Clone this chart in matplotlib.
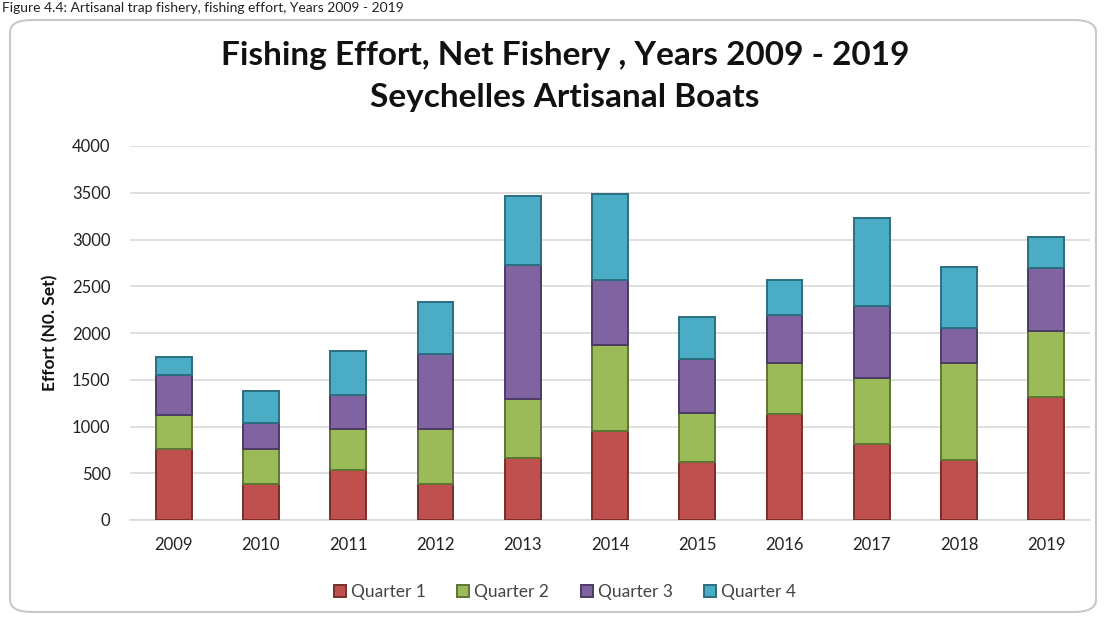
import matplotlib
matplotlib.use("Agg")
import matplotlib.pyplot as plt
from matplotlib.patches import FancyBboxPatch
import numpy as np

years = ["2009", "2010", "2011", "2012", "2013", "2014", "2015", "2016", "2017", "2018", "2019"]
q1 = [763, 385, 535, 381, 659, 955, 620, 1130, 809, 642, 1319]
q2 = [360, 371, 442, 596, 635, 917, 528, 553, 706, 1034, 706]
q3 = [428, 285, 356, 798, 1433, 695, 574, 509, 774, 374, 667]
q4 = [190, 342, 474, 556, 742, 916, 453, 375, 937, 659, 338]
series_names = ["Quarter 1", "Quarter 2", "Quarter 3", "Quarter 4"]
colors = ["#C0504D", "#9BBB59", "#8064A2", "#4BACC6"]
edges = ["#7A2E2C", "#5E7534", "#4D3B66", "#2C6E80"]
yticks = [0, 500, 1000, 1500, 2000, 2500, 3000, 3500, 4000]

plt.rcParams['font.family'] = ['Lato', 'DejaVu Sans']

W, H = 1105, 618
fig = plt.figure(figsize=(W / 100, H / 100), dpi=100)
fig.patch.set_facecolor("white")

# chart border
border = FancyBboxPatch((10 / W, 1 - 612 / H), (1096 - 10) / W, (612 - 20) / H,
                        boxstyle="round,pad=0,rounding_size=0.02",
                        transform=fig.transFigure, facecolor="none",
                        edgecolor="#C8C8C8", linewidth=1.5, zorder=-1)
fig.patches.append(border)

# caption on top
fig.text(2 / W, 1 - 8 / H, "Figure 4.4: Artisanal trap fishery, fishing effort, Years 2009 - 2019",
         fontsize=10, color="#222222", ha="left", va="center")

ax = fig.add_axes([130 / W, 1 - 520 / H, (1090 - 130) / W, (520 - 146) / H])
ax.set_facecolor("none")

x = np.arange(len(years))
bottom = np.zeros(len(years))
for vals, name, c, ec in zip([q1, q2, q3, q4], series_names, colors, edges):
    ax.bar(x, vals, width=0.41, bottom=bottom, color=c, edgecolor=ec,
           linewidth=1.4, label=name, zorder=3)
    bottom += np.array(vals)

ax.set_xlim(-0.5, len(years) - 0.5)
ax.set_ylim(0, 4000)
ax.set_yticks(yticks)
ax.set_yticklabels([str(t) for t in yticks], fontsize=12, color="#222222")
ax.set_xticks(x)
ax.set_xticklabels(years, fontsize=12, color="#222222")
ax.tick_params(axis="y", length=0, pad=14)
ax.tick_params(axis="x", length=0, pad=12)
ax.grid(axis="y", color="#D9D9D9", linewidth=1.2, zorder=0)
for s in ["top", "right", "left"]:
    ax.spines[s].set_visible(False)
ax.spines["bottom"].set_color("#D9D9D9")
ax.spines["bottom"].set_linewidth(1.2)

ax.set_ylabel("Effort (N0. Set)", fontsize=12.5, fontweight="bold", color="#111111", labelpad=10)

fig.text(565 / W, 1 - 55 / H, "Fishing Effort, Net Fishery , Years 2009 - 2019",
         fontsize=24, fontweight="bold", ha="center", va="center", color="#111111")
fig.text(565 / W, 1 - 97 / H, "Seychelles Artisanal Boats",
         fontsize=24, fontweight="bold", ha="center", va="center", color="#111111")

handles, labels = ax.get_legend_handles_labels()
leg = fig.legend(handles, labels, loc="center", bbox_to_anchor=(565 / W, 1 - 592 / H),
                 ncol=4, frameon=False, fontsize=12.5, handlelength=0.7, handleheight=0.7,
                 handletextpad=0.3, columnspacing=1.8, labelcolor="#444444")

fig.savefig("out.png", dpi=100, facecolor="white")
